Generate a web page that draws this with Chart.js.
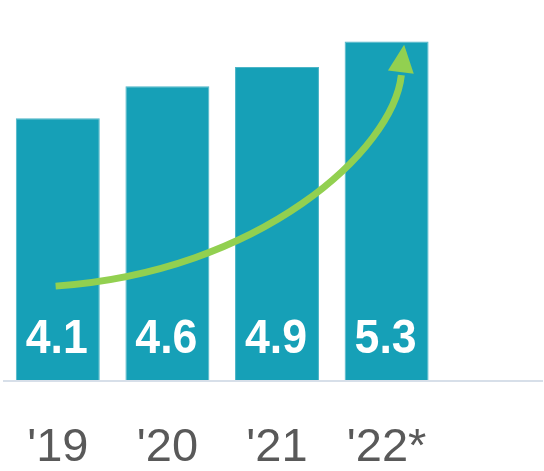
<!DOCTYPE html>
<html>
<head>
<meta charset="utf-8">
<style>
  html, body { margin: 0; padding: 0; background: #ffffff; }
  #wrap { width: 544px; height: 471px; }
</style>
<script src="https://cdn.jsdelivr.net/npm/chart.js@4"></script>
</head>
<body>
<div id="wrap"><canvas id="c" width="544" height="471"></canvas></div>
<script>
// Years shown along the bottom
const years = ["'19", "'20", "'21", "'22*"];
// Value of each year's bar
const values = [4.1, 4.6, 4.9, 5.3];
// Growth arrow path as [category position, value] pairs: start, two bezier controls, end, tip
const trendArrow = [[-0.02, 1.47], [1.85, 1.69], [3.06, 3.60], [3.13, 4.82], [3.16, 5.25]];

const BAR_COLOR = '#16a0b7';
const ARROW_COLOR = '#92d050';

// map a (possibly fractional) category position to a pixel
function catPixel(xs, pos) {
  const p0 = xs.getPixelForValue(0);
  const p1 = xs.getPixelForValue(1);
  return p0 + (p1 - p0) * pos;
}

const baselinePlugin = {
  id: 'baseline',
  afterDatasetsDraw(chart) {
    const ctx = chart.ctx;
    const y = chart.scales.y.getPixelForValue(0) + 1;
    ctx.save();
    ctx.strokeStyle = '#d7dfe9';
    ctx.lineWidth = 2;
    ctx.beginPath();
    ctx.moveTo(chart.chartArea.left, y);
    ctx.lineTo(chart.width - 1, y);
    ctx.stroke();
    ctx.restore();
  }
};

const arrowPlugin = {
  id: 'trendArrow',
  afterDatasetsDraw(chart) {
    const ctx = chart.ctx;
    const xs = chart.scales.x, ys = chart.scales.y;
    const pts = trendArrow.map(([c, v]) => [catPixel(xs, c), ys.getPixelForValue(v)]);
    const [p0, p1, p2, p3, tip] = pts;
    ctx.save();
    ctx.strokeStyle = ARROW_COLOR;
    ctx.fillStyle = ARROW_COLOR;
    ctx.lineWidth = 7;
    ctx.lineCap = 'butt';
    ctx.beginPath();
    ctx.moveTo(p0[0], p0[1]);
    ctx.bezierCurveTo(p1[0], p1[1], p2[0], p2[1], p3[0] + 0.5, p3[1] + 3);
    ctx.stroke();
    // arrow head
    const dx = tip[0] - p3[0], dy = tip[1] - p3[1];
    const len = Math.hypot(dx, dy);
    const nx = -dy / len, ny = dx / len;
    const hw = 13;
    ctx.beginPath();
    ctx.moveTo(tip[0], tip[1]);
    ctx.lineTo(p3[0] + nx * hw, p3[1] + ny * hw);
    ctx.lineTo(p3[0] - nx * hw, p3[1] - ny * hw);
    ctx.closePath();
    ctx.fill();
    ctx.restore();
  }
};

const valueLabelPlugin = {
  id: 'valueLabels',
  afterDatasetsDraw(chart) {
    const ctx = chart.ctx;
    const meta = chart.getDatasetMeta(0);
    const base = chart.scales.y.getPixelForValue(0);
    ctx.save();
    ctx.fillStyle = '#ffffff';
    ctx.font = 'bold 48px "Liberation Sans", Arial, sans-serif';
    ctx.textAlign = 'center';
    ctx.textBaseline = 'middle';
    meta.data.forEach((bar, i) => {
      ctx.save();
      ctx.translate(bar.x - 1, base - 40);
      ctx.scale(0.93, 1);
      ctx.fillText(values[i].toFixed(1), 0, 0);
      ctx.restore();
    });
    ctx.restore();
  }
};

new Chart(document.getElementById('c'), {
  type: 'bar',
  data: {
    labels: years,
    datasets: [{
      data: values,
      backgroundColor: BAR_COLOR,
      borderColor: '#4cb5c7',
      borderWidth: 1,
      barPercentage: 0.766,
      categoryPercentage: 1.0
    }]
  },
  options: {
    responsive: false,
    animation: false,
    devicePixelRatio: 1,
    layout: { padding: { left: 3, right: 102.6, top: 0, bottom: 0 } },
    plugins: { legend: { display: false }, tooltip: { enabled: false } },
    scales: {
      x: {
        grid: { display: false, drawTicks: false },
        border: { display: false },
        ticks: {
          color: '#595959',
          font: { family: '"Liberation Sans", Arial, sans-serif', size: 47 },
          padding: 40,
          maxRotation: 0,
          autoSkip: false
        },
        afterFit(scale) {
          scale.height = 91;
          scale.paddingLeft = 0;
          scale.paddingRight = 0;
        }
      },
      y: { display: false, min: 0, max: 5.95 }
    }
  },
  plugins: [baselinePlugin, arrowPlugin, valueLabelPlugin]
});
</script>
</body>
</html>
